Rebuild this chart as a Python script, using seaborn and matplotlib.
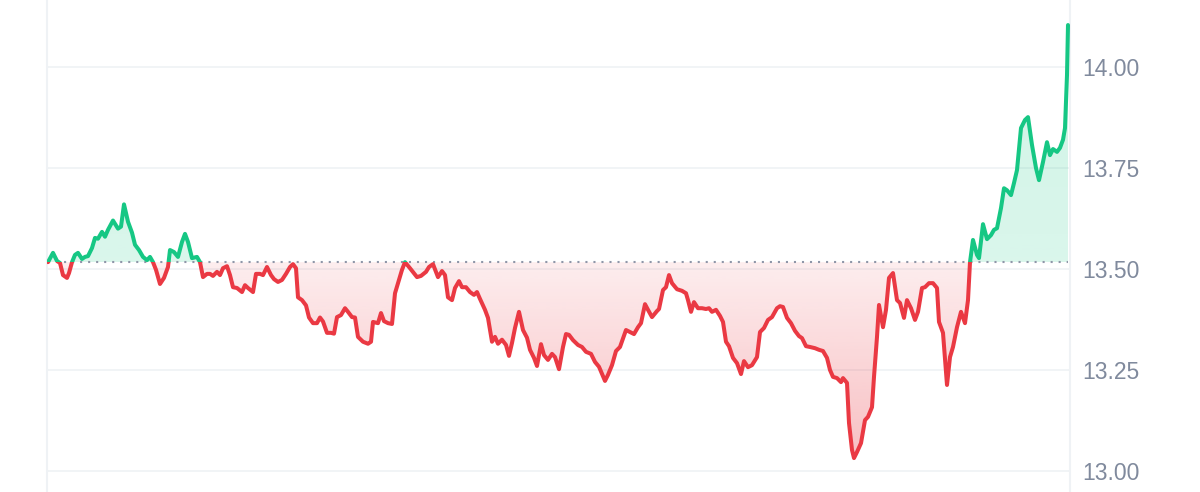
import matplotlib
matplotlib.use('Agg')
import matplotlib.pyplot as plt
from matplotlib.colors import to_rgb
from matplotlib.patches import Rectangle
from matplotlib.path import Path
import numpy as np
import seaborn as sns


# time offsets (arbitrary minute units) and traded price
minutes = [0, 5, 9, 12, 15, 19, 21, 24, 27, 30, 34, 37, 40, 44, 47, 50, 54, 57, 60, 65,
           70, 73, 76, 80, 84, 87, 91, 95, 99, 102, 105, 108, 112, 116, 120, 122, 126, 130,
           134, 137, 140, 144, 149, 152, 155, 159, 162, 165, 169, 172, 175, 179, 182, 185,
           189, 194, 197, 200, 205, 208, 212, 215, 219, 223, 226, 230, 234, 238, 242, 245,
           248, 250, 254, 258, 261, 265, 269, 272, 275, 279, 283, 286, 289, 293, 297, 300,
           304, 307, 310, 315, 320, 323, 325, 330, 333, 336, 340, 344, 347, 350, 354, 357,
           362, 369, 373, 378, 381, 385, 390, 394, 397, 400, 404, 407, 411, 414, 418, 422,
           426, 429, 432, 437, 440, 444, 447, 450, 454, 458, 461, 464, 467, 471, 475, 479,
           482, 486, 489, 493, 496, 500, 504, 507, 511, 515, 518, 521, 525, 530, 534, 538,
           543, 547, 551, 557, 560, 564, 568, 572, 578, 582, 586, 590, 593, 597, 600, 604,
           609, 611, 615, 618, 621, 624, 629, 634, 638, 640, 643, 646, 650, 654, 658, 661,
           664, 668, 672, 675, 678, 681, 685, 689, 693, 696, 700, 704, 709, 712, 716, 720,
           724, 729, 732, 735, 739, 743, 747, 751, 754, 758, 762, 767, 771, 775, 779, 782,
           785, 789, 793, 795, 799, 801, 804, 806, 809, 813, 817, 820, 824, 826, 829, 831,
           835, 838, 841, 845, 849, 852, 856, 859, 863, 867, 870, 874, 877, 881, 885, 889,
           891, 895, 899, 902, 905, 909, 913, 917, 920, 922, 925, 929, 931, 935, 939, 943,
           946, 949, 953, 956, 959, 963, 966, 969, 973, 977, 980, 984, 988, 991, 995, 999,
           1002, 1005, 1009, 1012, 1015, 1017, 1019, 1020]
price = [13.517, 13.540, 13.520, 13.515, 13.485, 13.478, 13.490, 13.517, 13.535, 13.540,
         13.525, 13.530, 13.532, 13.552, 13.577, 13.575, 13.592, 13.580, 13.597, 13.620,
         13.600, 13.605, 13.660, 13.617, 13.590, 13.560, 13.547, 13.530, 13.522, 13.530,
         13.517, 13.498, 13.463, 13.478, 13.505, 13.547, 13.542, 13.530, 13.567, 13.587,
         13.567, 13.527, 13.530, 13.517, 13.480, 13.488, 13.488, 13.483, 13.493, 13.485,
         13.502, 13.507, 13.485, 13.455, 13.453, 13.443, 13.460, 13.453, 13.443, 13.488,
         13.488, 13.485, 13.505, 13.485, 13.475, 13.468, 13.473, 13.488, 13.505, 13.512,
         13.502, 13.430, 13.423, 13.410, 13.380, 13.366, 13.366, 13.380, 13.370, 13.342,
         13.342, 13.340, 13.381, 13.386, 13.403, 13.394, 13.381, 13.380, 13.332, 13.320,
         13.315, 13.320, 13.369, 13.366, 13.391, 13.371, 13.366, 13.364, 13.440, 13.465,
         13.498, 13.517, 13.502, 13.480, 13.483, 13.493, 13.505, 13.512, 13.480, 13.495,
         13.485, 13.430, 13.423, 13.453, 13.470, 13.455, 13.455, 13.443, 13.436, 13.443,
         13.426, 13.399, 13.379, 13.320, 13.332, 13.315, 13.325, 13.312, 13.285, 13.317,
         13.354, 13.394, 13.349, 13.330, 13.300, 13.280, 13.260, 13.314, 13.287, 13.275,
         13.290, 13.282, 13.252, 13.307, 13.339, 13.337, 13.324, 13.312, 13.307, 13.295,
         13.290, 13.270, 13.258, 13.223, 13.238, 13.262, 13.297, 13.307, 13.349, 13.344,
         13.339, 13.356, 13.366, 13.413, 13.399, 13.381, 13.396, 13.401, 13.448, 13.455,
         13.485, 13.465, 13.450, 13.446, 13.440, 13.423, 13.394, 13.418, 13.403, 13.403,
         13.401, 13.403, 13.394, 13.399, 13.384, 13.369, 13.320, 13.309, 13.280, 13.267,
         13.240, 13.272, 13.257, 13.262, 13.282, 13.344, 13.354, 13.374, 13.381, 13.403,
         13.408, 13.406, 13.379, 13.366, 13.347, 13.334, 13.329, 13.309, 13.307, 13.304,
         13.300, 13.297, 13.280, 13.250, 13.233, 13.230, 13.220, 13.230, 13.218, 13.119,
         13.052, 13.032, 13.047, 13.069, 13.126, 13.134, 13.158, 13.233, 13.332, 13.411,
         13.356, 13.399, 13.478, 13.490, 13.423, 13.416, 13.379, 13.423, 13.403, 13.374,
         13.394, 13.453, 13.455, 13.465, 13.465, 13.453, 13.369, 13.342, 13.213, 13.282,
         13.307, 13.356, 13.394, 13.366, 13.423, 13.517, 13.572, 13.535, 13.527, 13.611,
         13.574, 13.584, 13.597, 13.601, 13.651, 13.700, 13.695, 13.683, 13.713, 13.745,
         13.849, 13.869, 13.876, 13.807, 13.750, 13.720, 13.765, 13.814, 13.782, 13.797,
         13.790, 13.800, 13.820, 13.849, 13.980, 14.104]
prev_close = 13.517
y_ticks = [13.00, 13.25, 13.50, 13.75, 14.00]

green = '#16c784'
red = '#ea3943'
grid_col = '#eff2f5'
label_col = '#808a9d'

sns.set_style('white')
plt.rcParams['font.family'] = ['Liberation Sans', 'DejaVu Sans']

t = np.array(minutes, dtype=float)
p = np.array(price)
x_lo, x_hi = -1, 1022
y_lo, y_hi = 12.948, 14.166


def gradient_fill(ax, above, color, a_near, a_far):
    where = p >= prev_close if above else p <= prev_close
    poly = ax.fill_between(t, p, prev_close, where=where, interpolate=True,
                           facecolor='none', edgecolor='none')
    path = Path.make_compound_path(*poly.get_paths())
    far = p.max() if above else p.min()
    img = np.zeros((256, 1, 4))
    img[..., :3] = to_rgb(color)
    img[:, 0, 3] = np.linspace(a_near, a_far, 256)
    im = ax.imshow(img, extent=[x_lo, x_hi, prev_close, far], origin='lower',
                   aspect='auto', zorder=1, interpolation='bilinear')
    im.set_clip_path(path, ax.transData)


fig = plt.figure(figsize=(12, 4.92), dpi=100)
ax = fig.add_axes([47 / 1200, 0, 1023 / 1200, 1])

gradient_fill(ax, True, green, 0.16, 0.20)
gradient_fill(ax, False, red, 0.09, 0.32)

# line split in two colours around previous close
sns.lineplot(x=t, y=p, color=green, estimator=None, ax=ax, zorder=4)
ax.lines[-1].set_clip_path(Rectangle((x_lo, prev_close), x_hi - x_lo, y_hi - prev_close,
                                     transform=ax.transData))
sns.lineplot(x=t, y=p, color=red, estimator=None, ax=ax, zorder=4)
ax.lines[-1].set_clip_path(Rectangle((x_lo, y_lo), x_hi - x_lo, prev_close - y_lo,
                                     transform=ax.transData))
for ln in ax.lines:
    ln.set_linewidth(2.9)
    ln.set_solid_joinstyle('round')
    ln.set_solid_capstyle('round')

ax.plot([t[0], t[-1]], [prev_close, prev_close], color='#8f96a8', lw=1.5,
        linestyle=(0, (1, 2.85)), zorder=3)

for v in y_ticks:
    ax.axhline(v, color=grid_col, lw=1.2, zorder=0)

ax.set_xlim(x_lo, x_hi)
ax.set_ylim(y_lo, y_hi)
ax.set_xticks([])
ax.set_yticks(y_ticks)
ax.set_yticklabels([f'{v:.2f}' for v in y_ticks])
ax.yaxis.tick_right()
ax.tick_params(axis='y', length=0, pad=9, labelsize=16.5, labelcolor=label_col)
ax.set_xlabel('')
ax.set_ylabel('')
for side in ['top', 'bottom']:
    ax.spines[side].set_visible(False)
for side in ['left', 'right']:
    ax.spines[side].set_color(grid_col)
    ax.spines[side].set_linewidth(1.5)

fig.savefig('out.png', dpi=100)
